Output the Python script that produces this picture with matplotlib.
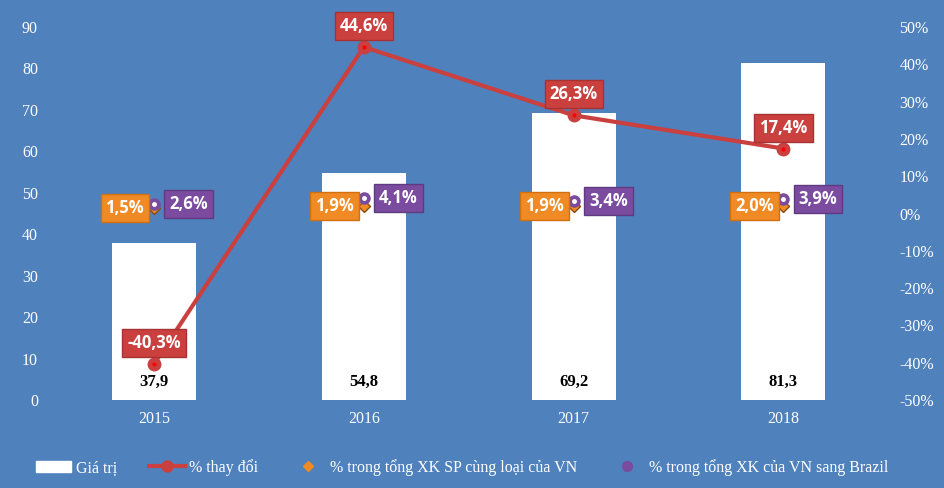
import numpy as np
import matplotlib
matplotlib.use('Agg')
import matplotlib.pyplot as plt
from matplotlib.lines import Line2D
from matplotlib.patches import Patch

years = ['2015', '2016', '2017', '2018']
gia_tri = [37.9, 54.8, 69.2, 81.3]
thay_doi = [-40.3, 44.6, 26.3, 17.4]
ty_trong_sp = [1.5, 1.9, 1.9, 2.0]
ty_trong_brazil = [2.6, 4.1, 3.4, 3.9]

BG = '#4F81BD'
RED = '#C9403F'
ORANGE = '#F08A24'
PURPLE = '#7A4B9E'


def vn(v):
    return f'{v:.1f}'.replace('.', ',')


def main():
    plt.rcParams['font.family'] = ['Liberation Serif', 'DejaVu Serif']
    fig = plt.figure(figsize=(9.44, 4.88), dpi=100, facecolor=BG)
    ax = fig.add_axes([0.052, 0.180, 0.889, 0.765], facecolor=BG)
    ax2 = ax.twinx()

    x = np.arange(len(years))
    ax.bar(x, gia_tri, width=0.4, color='white', zorder=2)
    ax.set_xlim(-0.5, len(years) - 0.5)
    ax.set_ylim(0, 90)
    ax.set_yticks(range(0, 91, 10))
    ax.set_xticks(x)
    ax.set_xticklabels(years)
    for v, xi in zip(gia_tri, x):
        ax.text(xi, 4.5, vn(v), ha='center', va='center', fontsize=12,
                fontweight='bold', color='black', zorder=3)

    ax2.set_ylim(-50, 50)
    ax2.set_yticks(range(-50, 51, 10))
    ax2.set_yticklabels([f'{t}%' for t in range(-50, 51, 10)])

    for a in (ax, ax2):
        for s in a.spines.values():
            s.set_visible(False)
        a.tick_params(colors='white', labelsize=11.5, length=0, pad=8)

    ax2.plot(x, thay_doi, color=RED, lw=3, marker='o', ms=9,
             markerfacecolor=RED, markeredgecolor=RED, zorder=4)
    ax2.plot(x, thay_doi, ls='none', marker='o', ms=2, color='red', zorder=5)
    ax2.plot(x, ty_trong_sp, ls='none', marker='D', ms=6, color=ORANGE,
             markeredgecolor='#8B4A10', zorder=4)
    ax2.plot(x, ty_trong_brazil, ls='none', marker='o', ms=8, color=PURPLE,
             zorder=5)
    ax2.plot(x, ty_trong_brazil, ls='none', marker='o', ms=2.5, color='white',
             zorder=6)

    lab = dict(ha='center', va='center', fontsize=12, fontweight='bold',
               color='white', family=['Open Sans', 'DejaVu Sans'], zorder=7)
    for xi, v in zip(x, thay_doi):
        ax2.annotate(vn(v) + '%', (xi, v), xytext=(0, 15),
                     textcoords='offset points',
                     bbox=dict(boxstyle='square,pad=0.3', fc=RED, ec='#A83232'),
                     **lab)
    for xi, v in zip(x, ty_trong_sp):
        ax2.annotate(vn(v) + '%', (xi, v), xytext=(-21, 0),
                     textcoords='offset points',
                     bbox=dict(boxstyle='square,pad=0.3', fc=ORANGE, ec='#D07010'),
                     **lab)
    for xi, v in zip(x, ty_trong_brazil):
        ax2.annotate(vn(v) + '%', (xi, v), xytext=(25, 0),
                     textcoords='offset points',
                     bbox=dict(boxstyle='square,pad=0.3', fc=PURPLE, ec='#603A80'),
                     **lab)

    handles = [
        Patch(facecolor='white', edgecolor='white'),
        Line2D([0], [0], color=RED, lw=3, marker='o', ms=8, markerfacecolor=RED),
        Line2D([0], [0], ls='none', marker='D', ms=5, color=ORANGE),
        Line2D([0], [0], ls='none', marker='o', ms=7, color=PURPLE),
    ]
    labels = ['Giá trị', '% thay đổi', '% trong tổng XK SP cùng loại của VN',
              '% trong tổng XK của VN sang Brazil']
    fig.legend(handles, labels, loc='lower center', ncol=4, frameon=False,
               fontsize=11.5, labelcolor='white', bbox_to_anchor=(0.49, -0.005),
               handlelength=2.2, columnspacing=2.0, handletextpad=0.3)

    fig.savefig('out.png', dpi=100, facecolor=BG)


if __name__ == '__main__':
    main()
